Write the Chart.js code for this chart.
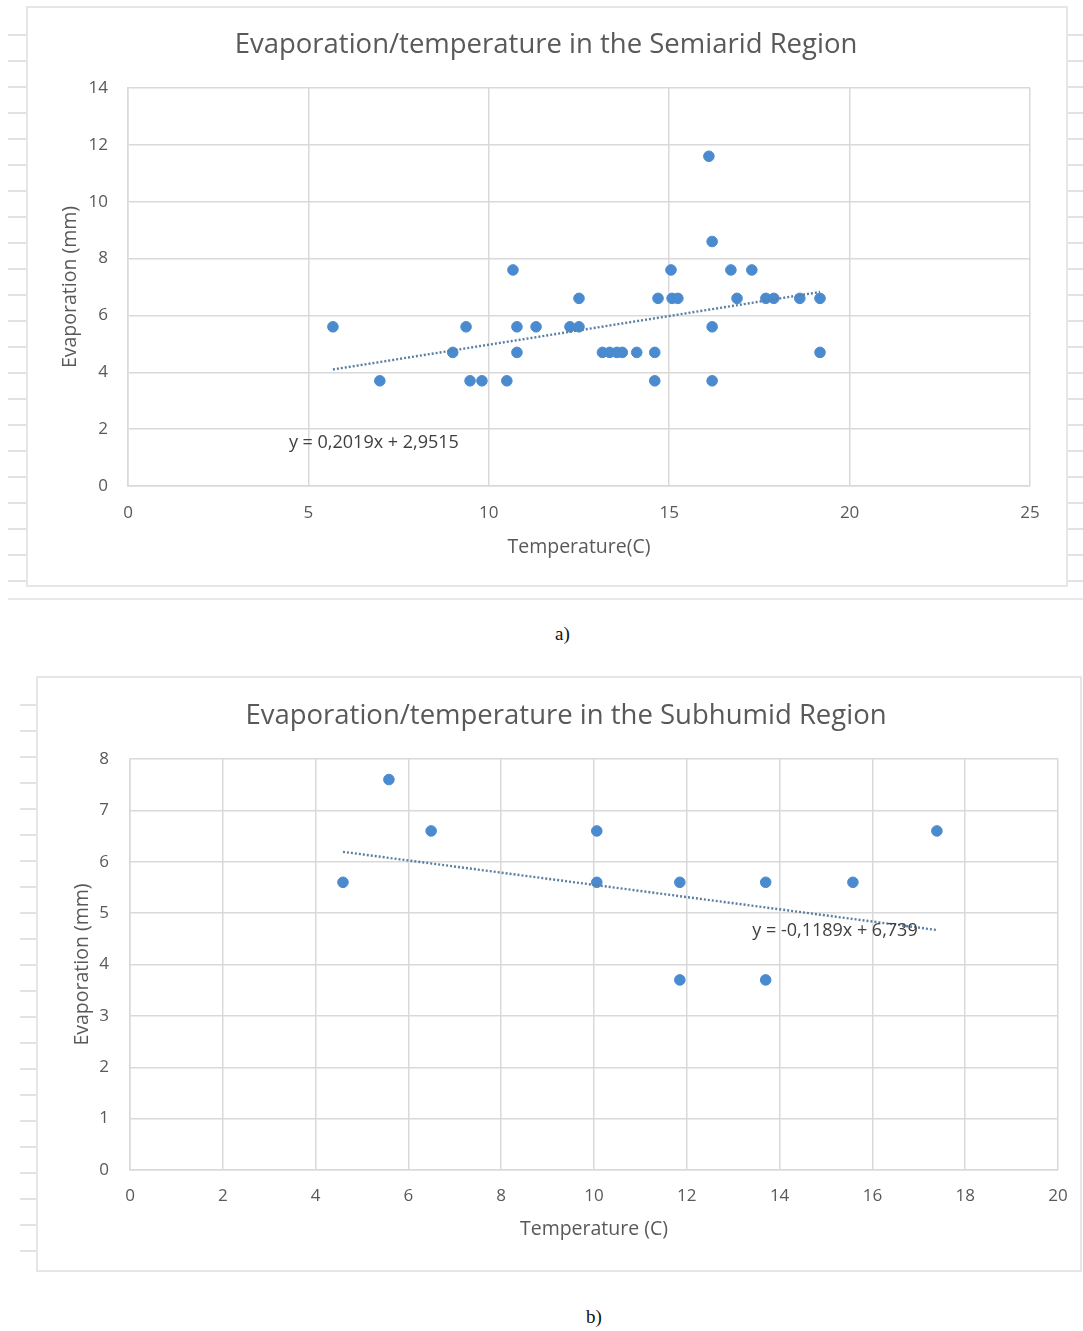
<!DOCTYPE html>
<html>
<head>
<meta charset="utf-8">
<script src="https://cdn.jsdelivr.net/npm/chart.js@4.4.0/dist/chart.umd.min.js"></script>
<style>
  body { margin: 0; width: 1083px; height: 1331px; position: relative; overflow: hidden; background: #fff; }
  .strip { position: absolute; background: repeating-linear-gradient(to bottom, transparent 0, transparent 24px, #e2e2e2 24px, #e2e2e2 26px); }
  .box { position: absolute; border: 2px solid #e6e6e6; background: #fff; }
  .box canvas { position: absolute; left: 0; top: 0; }
  .cap { position: absolute; font-family: "Liberation Serif", serif; font-size: 19px; color: #111; }
  .hline { position: absolute; height: 2px; background: #e8e8e8; }
</style>
</head>
<body>
<div class="strip" style="left:8px; top:10px; width:19px; height:575px;"></div>
<div class="strip" style="left:1066px; top:10px; width:17px; height:575px;"></div>
<div class="strip" style="left:20px; top:680px; width:18px; height:590px;"></div>
<div class="hline" style="left:8px; top:598px; width:1075px;"></div>

<div class="box" style="left:26px; top:6px; width:1038px; height:577px;">
  <canvas id="semiarid" width="1038" height="577"></canvas>
</div>
<div class="cap" style="left:555px; top:623px;">a)</div>

<div class="box" style="left:36px; top:676px; width:1042px; height:592px;">
  <canvas id="subhumid" width="1042" height="592"></canvas>
</div>
<div class="cap" style="left:586px; top:1306px;">b)</div>

<script>
// Semiarid region: temperature (C) vs evaporation (mm)
const semiTemp = [5.68, 6.98, 9.0, 9.37, 9.48, 9.81, 10.5, 10.67, 10.78, 10.78, 11.31, 12.25, 12.5, 12.5,
  13.15, 13.35, 13.55, 13.7, 14.1, 14.6, 14.6, 14.69, 15.05, 15.08, 15.24, 16.1, 16.19, 16.19, 16.19,
  16.71, 16.88, 17.29, 17.68, 17.9, 18.62, 19.18, 19.18];
const semiEvap = [5.6, 3.7, 4.7, 5.6, 3.7, 3.7, 3.7, 7.6, 5.6, 4.7, 5.6, 5.6, 6.6, 5.6,
  4.7, 4.7, 4.7, 4.7, 4.7, 4.7, 3.7, 6.6, 7.6, 6.6, 6.6, 11.6, 8.6, 5.6, 3.7,
  7.6, 6.6, 7.6, 6.6, 6.6, 6.6, 6.6, 4.7];
const semiTrend = { slope: 0.2019, intercept: 2.9515, from: 5.68, to: 19.18 };

// Subhumid region
const subTemp = [4.59, 5.58, 6.49, 10.06, 10.06, 11.85, 11.85, 13.7, 13.7, 15.58, 17.39];
const subEvap = [5.6, 7.6, 6.6, 6.6, 5.6, 5.6, 3.7, 5.6, 3.7, 5.6, 6.6];
const subTrend = { slope: -0.1189, intercept: 6.739, from: 4.59, to: 17.39 };

const FONT = '"Open Sans", sans-serif';
const TEXT = "#595959";
const GRID = "#d9d9d9";
const BLUE = "#4a8bd0";

// chart heading drawn at a chosen centre, and the trendline equation label
const textBits = {
    id: "textBits",
    afterDraw(chart, args, opts) {
        const { ctx, scales: { x, y } } = chart;
        ctx.save();
        ctx.textBaseline = "middle";
        ctx.fillStyle = TEXT;
        ctx.font = "27.5px " + FONT;
        ctx.textAlign = "center";
        ctx.fillText(opts.title, opts.titleX, opts.titleY);
        ctx.font = "18px " + FONT;
        ctx.fillStyle = "#404040";
        ctx.textAlign = "left";
        ctx.fillText(opts.eq, x.getPixelForValue(opts.eqX), y.getPixelForValue(opts.eqY));
        ctx.restore();
    }
};

function trendPoints(t) {
    return [t.from, t.to].map(x => ({ x, y: t.slope * x + t.intercept }));
}

function makeChart(id, cfg) {
    const points = cfg.temp.map((t, i) => ({ x: t, y: cfg.evap[i] }));
    return new Chart(document.getElementById(id), {
        type: "scatter",
        data: {
            datasets: [
                {
                    type: "line",
                    data: trendPoints(cfg.trend),
                    borderColor: "#5b7fa3",
                    borderWidth: 2.4,
                    borderDash: [2, 2],
                    pointRadius: 0,
                    fill: false,
                },
                {
                    data: points,
                    backgroundColor: BLUE,
                    borderColor: BLUE,
                    pointRadius: 5.3,
                },
            ]
        },
        plugins: [textBits],
        options: {
            responsive: false,
            animation: false,
            layout: { padding: { left: 0, right: cfg.padRight, top: cfg.padTop, bottom: 0 } },
            plugins: {
                legend: { display: false },
                tooltip: { enabled: false },
                title: { display: false },
                textBits: cfg.text,
            },
            scales: {
                x: {
                    type: "linear",
                    min: cfg.xMin, max: cfg.xMax,
                    ticks: { stepSize: cfg.xStep, color: TEXT, font: { family: FONT, size: 17 }, padding: cfg.xTickPad },
                    grid: { color: GRID, lineWidth: 1.5, drawTicks: false },
                    border: { color: GRID, width: 1.5 },
                    title: { display: true, text: cfg.xTitle, color: TEXT, font: { family: FONT, size: 19.5 }, padding: { bottom: cfg.xTitlePad } },
                    afterFit(scale) {
                        scale.height = cfg.xHeight;
                        scale.paddingLeft = 0;
                        scale.paddingRight = 0;
                    },
                },
                y: {
                    min: cfg.yMin, max: cfg.yMax,
                    ticks: { stepSize: cfg.yStep, color: TEXT, font: { family: FONT, size: 17 }, padding: cfg.yTickPad },
                    grid: { color: GRID, lineWidth: 1.5, drawTicks: false },
                    border: { color: GRID, width: 1.5 },
                    title: { display: true, text: "Evaporation (mm)", color: TEXT, font: { family: FONT, size: 19.5 }, padding: { top: cfg.yTitlePad } },
                    afterFit(scale) { scale.width = cfg.yWidth; },
                },
            }
        }
    });
}

makeChart("semiarid", {
    temp: semiTemp, evap: semiEvap, trend: semiTrend,
    xTitle: "Temperature(C)",
    xMin: 0, xMax: 25, xStep: 5, yMin: 0, yMax: 14, yStep: 2,
    padRight: 36, padTop: 80,
    xHeight: 99, xTickPad: 17, xTitlePad: 25.5,
    yWidth: 100, yTickPad: 20, yTitlePad: 30.3,
    text: { title: "Evaporation/temperature in the Semiarid Region", titleX: 518, titleY: 37,
            eq: "y = 0,2019x + 2,9515", eqX: 4.46, eqY: 1.51 },
});

makeChart("subhumid", {
    temp: subTemp, evap: subEvap, trend: subTrend,
    xTitle: "Temperature (C)",
    xMin: 0, xMax: 20, xStep: 2, yMin: 0, yMax: 8, yStep: 1,
    padRight: 22, padTop: 81,
    xHeight: 100, xTickPad: 16, xTitlePad: 28.5,
    yWidth: 92, yTickPad: 21, yTitlePad: 32.3,
    text: { title: "Evaporation/temperature in the Subhumid Region", titleX: 528, titleY: 38,
            eq: "y = -0,1189x + 6,739", eqX: 13.41, eqY: 4.65 },
});
</script>
</body>
</html>
